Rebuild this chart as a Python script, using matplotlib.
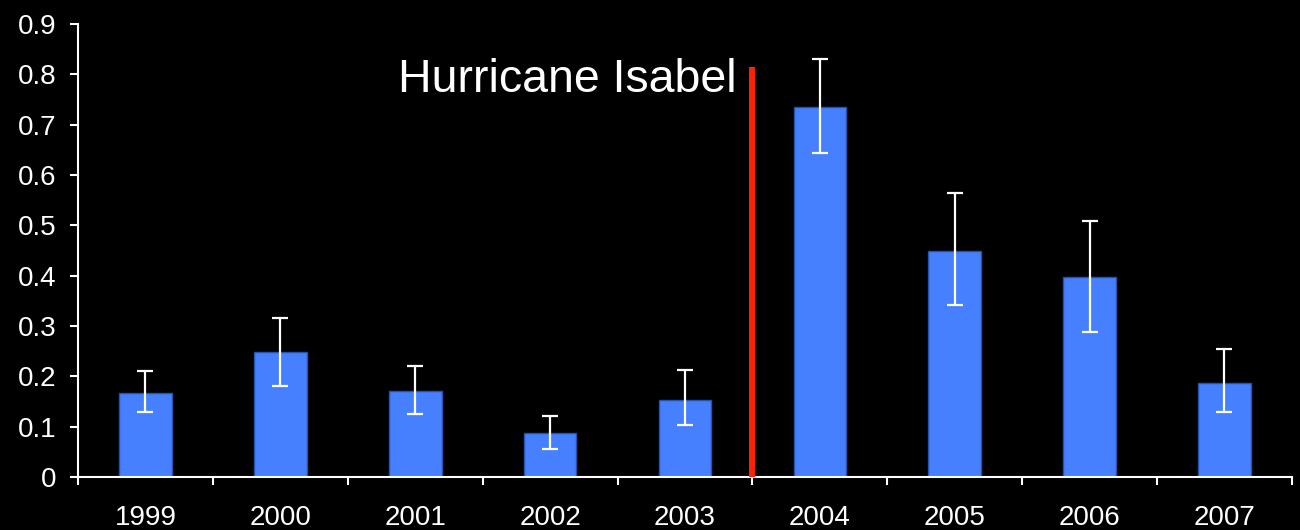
import matplotlib
matplotlib.use("Agg")
import matplotlib.pyplot as plt
import numpy as np

years = ["1999", "2000", "2001", "2002", "2003", "2004", "2005", "2006", "2007"]
means = [0.166, 0.248, 0.170, 0.088, 0.152, 0.735, 0.450, 0.398, 0.187]
err_low = [0.130, 0.181, 0.125, 0.056, 0.103, 0.643, 0.341, 0.289, 0.130]
err_high = [0.211, 0.316, 0.221, 0.121, 0.212, 0.831, 0.565, 0.509, 0.254]
y_ticks = [0, 0.1, 0.2, 0.3, 0.4, 0.5, 0.6, 0.7, 0.8, 0.9]
y_tick_labels = ["0", "0.1", "0.2", "0.3", "0.4", "0.5", "0.6", "0.7", "0.8", "0.9"]
event_label = "Hurricane Isabel"
event_position = 4.5   # between 2003 and 2004
event_height = 0.815

plt.rcParams["font.family"] = ["Liberation Sans", "DejaVu Sans"]

fig = plt.figure(figsize=(13, 5.3), dpi=100, facecolor="black")
ax = fig.add_axes([0.06, 0.1, 0.9338, 0.8547], facecolor="black")

x = np.arange(len(years))
means_a = np.array(means)
yerr = np.vstack([means_a - np.array(err_low), np.array(err_high) - means_a])

ax.bar(x, means, width=0.39, color="#4680FF", edgecolor="#2452B0", linewidth=1.0, zorder=2)
ax.errorbar(x, means, yerr=yerr, fmt="none", ecolor="white", elinewidth=1.6,
            capsize=6, capthick=1.6, zorder=3)

# Event marker
ax.plot([event_position, event_position], [0, event_height], color="#FF2200",
        linewidth=4.3, solid_capstyle="butt", zorder=4)
ax.annotate(event_label, xy=(event_position, 0.765), xytext=(-16, 0),
            textcoords="offset pixels", ha="right", va="baseline",
            color="white", fontsize=33.5)

ax.set_xlim(-0.5, len(years) - 0.5)
ax.set_ylim(0, 0.9)

ax.set_yticks(y_ticks)
ax.set_yticklabels(y_tick_labels)
ax.set_xticks(x)
ax.set_xticklabels(years)
ax.set_xticks(np.arange(-0.5, len(years)), minor=True)

ax.tick_params(axis="y", colors="white", labelsize=20, length=5.8, width=1.5,
               direction="out", pad=10)
ax.tick_params(axis="x", which="major", colors="white", labelsize=20, length=0, pad=20)
ax.tick_params(axis="x", which="minor", colors="white", length=5.8, width=1.5,
               direction="out")

for side in ("top", "right"):
    ax.spines[side].set_visible(False)
for side in ("left", "bottom"):
    ax.spines[side].set_color("white")
    ax.spines[side].set_linewidth(1.5)

fig.savefig("out.png", dpi=100, facecolor="black")
